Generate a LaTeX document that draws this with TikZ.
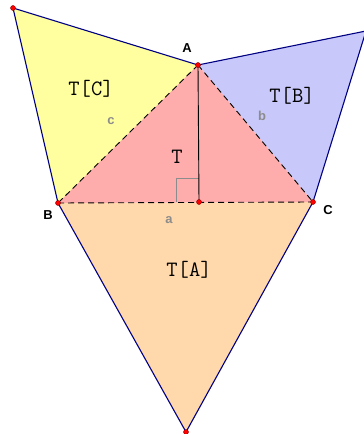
\documentclass[tikz,border=0pt]{standalone}
\usepackage{fontspec}
\newfontfamily\labelfont{Liberation Sans}
\definecolor{cyel}{RGB}{255,255,160}
\definecolor{cblu}{RGB}{200,200,250}
\definecolor{cpink}{RGB}{255,172,172}
\definecolor{cpeach}{RGB}{255,216,172}
\definecolor{cnavy}{RGB}{0,0,130}
\definecolor{cgray}{RGB}{140,140,140}
\begin{document}
\begin{tikzpicture}[x=1bp,y=-1bp,
  outer/.style={draw=cnavy,line width=1.1bp,line join=round},
  side/.style={draw=black,dash pattern=on 6bp off 4bp,line width=0.9bp},
  pt/.style={circle,fill=red,draw=red!50!black,line width=0.4bp,inner sep=0pt,minimum size=5bp},
  vlab/.style={font=\labelfont\bfseries\fontsize{13}{13}\selectfont,text=black,inner sep=0pt},
  slab/.style={font=\labelfont\bfseries\fontsize{13}{13}\selectfont,text=cgray,inner sep=0pt},
  tlab/.style={font=\ttfamily\fontsize{22}{22}\selectfont,inner sep=0pt}]
\useasboundingbox (0,0) rectangle (363,434);
\coordinate (A) at (198,65);
\coordinate (B) at (58,203);
\coordinate (C) at (313,202);
\coordinate (H) at (199,202);
\coordinate (PC) at (13,8);
\coordinate (PB) at (366,31);
\coordinate (PA) at (186,432);
% fills
\fill[cyel] (PC) -- (A) -- (B) -- cycle;
\fill[cblu] (PB) -- (C) -- (A) -- cycle;
\fill[cpeach] (B) -- (C) -- (PA) -- cycle;
\fill[cpink] (A) -- (B) -- (C) -- cycle;
% right angle mark
\draw[cgray,line width=0.8bp] (176,202) -- (176,178) -- (199,178);
% outer edges
\draw[outer] (A) -- (PC) -- (B);
\draw[outer] (A) -- (PB) -- (C);
\draw[outer] (B) -- (PA) -- (C);
% triangle sides
\draw[side] (A) -- (B);
\draw[side] (A) -- (C);
\draw[side] (B) -- (C);
% altitude
\draw[black,line width=0.9bp] (A) -- (H);
% points
\foreach \p in {A,B,C,H,PC,PA} \node[pt] (n\p) at (\p) {};
% labels
\node[vlab] (lA) at (187,48) {A};
\node[vlab] (lB) at (48,215) {B};
\node[vlab] (lC) at (328,210) {C};
\node[slab] (la) at (169,220) {a};
\node[slab] (lb) at (262,116) {b};
\node[slab] (lc) at (111,121) {c};
\node[tlab] (tC) at (91,89) {T[C]};
\node[tlab] (tB) at (292,96) {T[B]};
\node[tlab] (tT) at (177,157) {T};
\node[tlab] (tA) at (189,270) {T[A]};
\end{tikzpicture}
\end{document}
